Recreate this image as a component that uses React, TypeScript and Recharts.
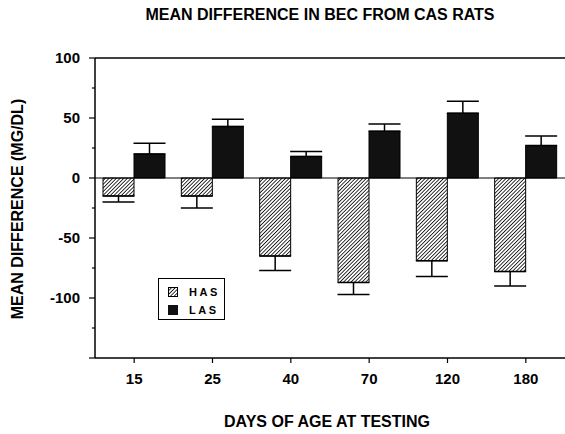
import React from 'react';
import { BarChart, Bar, XAxis, YAxis, ErrorBar, ReferenceLine } from 'recharts';

const days = ['15', '25', '40', '70', '120', '180'];
const hasValues = [-15, -15, -65, -87, -69, -78];
const hasErrors = [5, 10, 12, 10, 13, 12];
const lasValues = [20, 43, 18, 39, 54, 27];
const lasErrors = [9, 6, 4, 6, 10, 8];
const yTicks = [-150, -125, -100, -75, -50, -25, 0, 25, 50, 75, 100];

const data = days.map((d, i) => ({
  day: d,
  HAS: hasValues[i],
  hasErr: [hasErrors[i], 0],
  LAS: lasValues[i],
  lasErr: [0, lasErrors[i]],
}));

const FONT = '"Liberation Sans", Arial, sans-serif';

const YTick = (props: any) => {
  const { x, y, payload } = props;
  const v = payload.value;
  const major = v % 50 === 0;
  return (
    <g>
      <line x1={x - (major ? 6 : 3)} x2={x} y1={y} y2={y} stroke="#000" strokeWidth={1.2} />
      {major && v !== -150 && (
        <text x={x - 15} y={y} dy="0.35em" textAnchor="end" fontFamily={FONT} fontWeight="bold" fontSize={15} fill="#000">
          {v}
        </text>
      )}
    </g>
  );
};

const LegendBox = () => (
  <div
    style={{
      position: 'absolute',
      left: 158,
      top: 278,
      border: '1.5px solid #000',
      width: 67,
      height: 42,
      boxSizing: 'border-box',
      padding: '6px 0 0 9px',
      fontFamily: FONT,
      fontWeight: 'bold',
      fontSize: 11,
      letterSpacing: 2.5,
      background: '#fff',
    }}
  >
    <div style={{ display: 'flex', alignItems: 'center', height: 13 }}>
      <svg width={10} height={10} style={{ marginRight: 11 }}>
        <rect x={0.5} y={0.5} width={9} height={9} fill="url(#hatch)" stroke="#000" />
      </svg>
      HAS
    </div>
    <div style={{ display: 'flex', alignItems: 'center', height: 13, marginTop: 5 }}>
      <svg width={10} height={10} style={{ marginRight: 11 }}>
        <rect x={0} y={0} width={10} height={10} fill="#111" />
      </svg>
      LAS
    </div>
  </div>
);

const labelStyle: React.CSSProperties = {
  position: 'absolute',
  whiteSpace: 'nowrap',
  fontFamily: FONT,
  fontWeight: 'bold',
  fontSize: 16,
};

export default function App() {
  return (
    <div style={{ position: 'absolute', left: 0, top: 0, width: 565, height: 434, background: '#fff' }}>
      <div style={{ ...labelStyle, left: 320, top: 15, transform: 'translate(-50%, -50%)' }}>
        MEAN DIFFERENCE IN BEC FROM CAS RATS
      </div>
      <div style={{ ...labelStyle, left: 18, top: 209, transform: 'translate(-50%, -50%) rotate(-90deg)' }}>
        MEAN DIFFERENCE (MG/DL)
      </div>
      <div style={{ ...labelStyle, left: 327, top: 422, transform: 'translate(-50%, -50%)' }}>
        DAYS OF AGE AT TESTING
      </div>
      <BarChart
        width={565}
        height={434}
        data={data}
        margin={{ top: 58, right: 0, left: 0, bottom: 46 }}
        barSize={31}
        barGap={0}
      >
        <defs>
          <pattern id="hatch" patternUnits="userSpaceOnUse" width={2.6} height={2.6} patternTransform="rotate(45)">
            <rect width={2.6} height={2.6} fill="#fff" />
            <line x1={0} y1={0} x2={0} y2={2.6} stroke="#111" strokeWidth={1.7} />
          </pattern>
        </defs>
        <XAxis
          dataKey="day"
          height={30}
          axisLine={{ stroke: '#000', strokeWidth: 1.5 }}
          tickLine={{ stroke: '#000', strokeWidth: 1.2 }}
          tickSize={5}
          tickMargin={10}
          tick={{ fill: '#000', fontFamily: FONT, fontWeight: 'bold', fontSize: 15 }}
        />
        <YAxis
          width={95}
          domain={[-150, 100]}
          ticks={yTicks}
          interval={0}
          allowDataOverflow
          axisLine={{ stroke: '#000', strokeWidth: 1.5 }}
          tickLine={false}
          tickSize={0}
          tickMargin={0}
          tick={<YTick />}
        />
        <ReferenceLine y={100} stroke="#000" strokeWidth={1.5} />
        <ReferenceLine y={0} stroke="#000" strokeWidth={1.2} />
        <Bar dataKey="HAS" fill="url(#hatch)" stroke="#000" strokeWidth={1} isAnimationActive={false}>
          <ErrorBar dataKey="hasErr" width={16} stroke="#000" strokeWidth={1.5} direction="y" isAnimationActive={false} />
        </Bar>
        <Bar dataKey="LAS" fill="#111" stroke="#000" strokeWidth={1} isAnimationActive={false}>
          <ErrorBar dataKey="lasErr" width={16} stroke="#000" strokeWidth={1.5} direction="y" isAnimationActive={false} />
        </Bar>
      </BarChart>
      <LegendBox />
    </div>
  );
}
